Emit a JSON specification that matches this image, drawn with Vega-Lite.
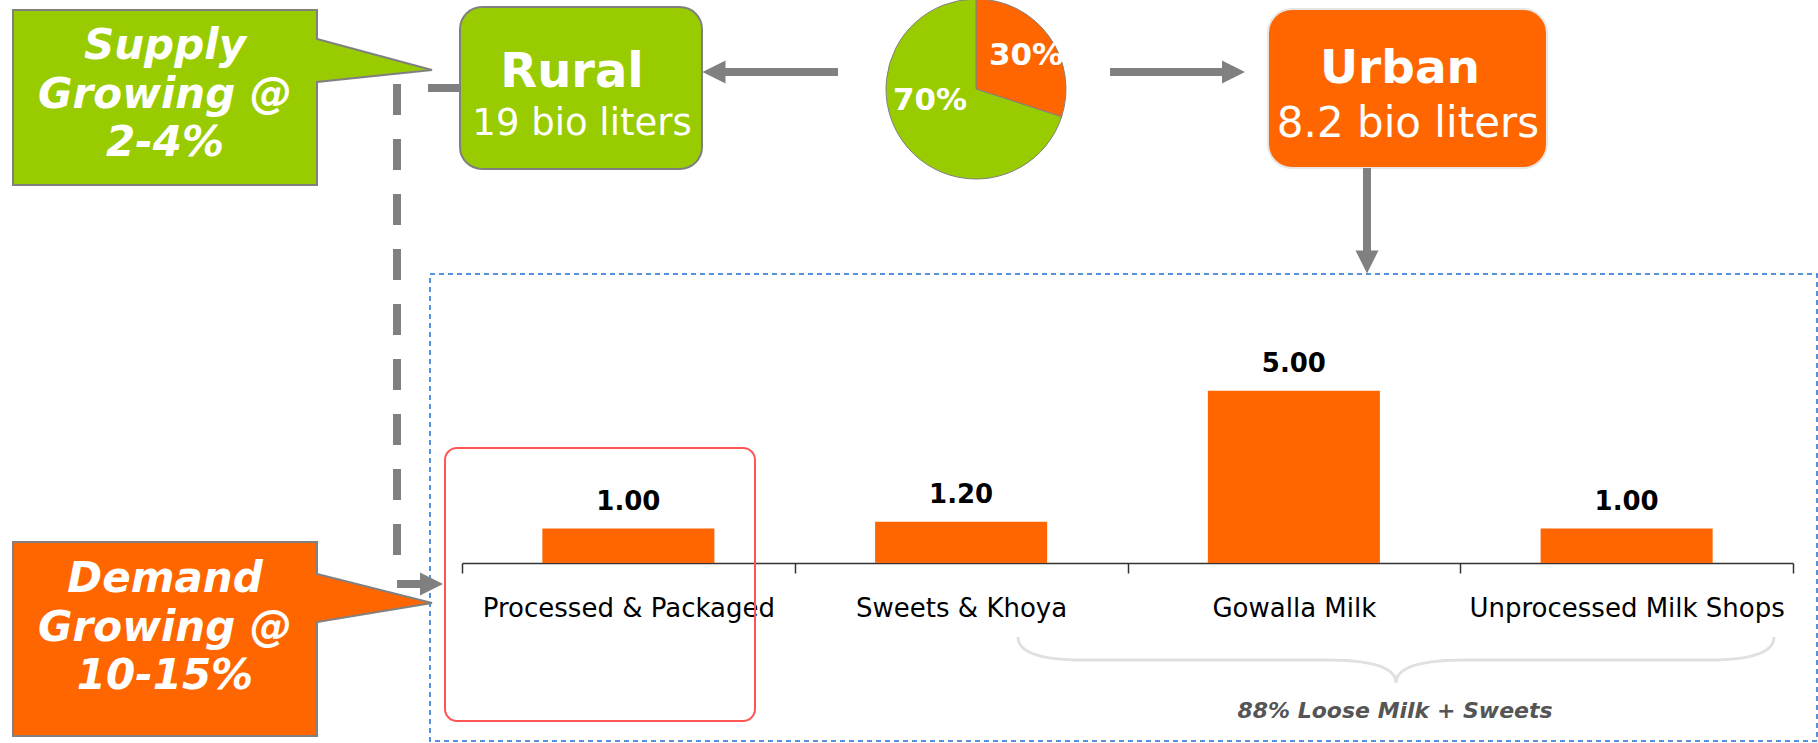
{
  "$schema": "https://vega.github.io/schema/vega-lite/v6.json",
  "width": 1818,
  "height": 743,
  "autosize": {"type": "none"},
  "padding": 0,
  "background": "white",
  "config": {"view": {"stroke": null}, "font": "DejaVu Sans", "axisQuantitative": {"disable": true}},
  "datasets": {
    "milk": [
      {"segment": "Processed & Packaged", "volume": 1.0},
      {"segment": "Sweets & Khoya", "volume": 1.2},
      {"segment": "Gowalla Milk", "volume": 5.0},
      {"segment": "Unprocessed Milk Shops", "volume": 1.0}
    ],
    "split": [
      {"area": "Urban", "share": 30},
      {"area": "Rural", "share": 70}
    ]
  },
  "resolve": {"scale": {"x": "independent", "y": "independent"}},
  "layer": [
    {
      "data": {"values": [{}]},
      "layer": [
        {
          "mark": {"type": "rect", "filled": false, "stroke": "#1f6fd1", "strokeWidth": 1.5, "strokeDash": [5, 4]},
          "encoding": {
            "x": {"datum": 430, "type": "quantitative", "scale": {"domain": [0, 1818], "range": [0, 1818], "nice": false, "zero": false}, "axis": null},
            "x2": {"datum": 1817},
            "y": {"datum": 274, "type": "quantitative", "scale": {"domain": [0, 743], "range": [0, 743], "nice": false, "zero": false}, "axis": null},
            "y2": {"datum": 741}
          }
        },
        {
          "mark": {"type": "point", "shape": "M-1,-0.4177L0.4511,-0.4177L0.4511,-0.2792L1,-0.1313L0.4511,-0.074L0.4511,0.4177L-1,0.4177Z", "size": 175561, "filled": true, "fill": "#99CC00", "stroke": "#808080", "strokeWidth": 2, "opacity": 1},
          "encoding": {"x": {"datum": 222.5, "type": "quantitative"}, "y": {"datum": 97.5, "type": "quantitative"}}
        },
        {
          "mark": {"type": "point", "shape": "M-1,-0.463L0.4511,-0.463L0.4511,-0.3103L1,-0.1718L0.4511,-0.0811L0.4511,0.463L-1,0.463Z", "size": 175561, "filled": true, "fill": "#FF6600", "stroke": "#808080", "strokeWidth": 2, "opacity": 1},
          "encoding": {"x": {"datum": 222.5, "type": "quantitative"}, "y": {"datum": 639, "type": "quantitative"}}
        },
        {
          "mark": {"type": "rect", "cornerRadius": 22, "fill": "#99CC00", "stroke": "#808080", "strokeWidth": 2},
          "encoding": {"x": {"datum": 460, "type": "quantitative"}, "x2": {"datum": 702}, "y": {"datum": 7, "type": "quantitative"}, "y2": {"datum": 169}}
        },
        {
          "mark": {"type": "rect", "cornerRadius": 24, "fill": "#FF6600", "stroke": "#e6e6e6", "strokeWidth": 2},
          "encoding": {"x": {"datum": 1268, "type": "quantitative"}, "x2": {"datum": 1547}, "y": {"datum": 9, "type": "quantitative"}, "y2": {"datum": 168}}
        },
        {
          "mark": {"type": "rule", "color": "#808080", "strokeWidth": 8},
          "encoding": {"x": {"datum": 724, "type": "quantitative"}, "x2": {"datum": 838}, "y": {"datum": 72, "type": "quantitative"}}
        },
        {
          "mark": {"type": "rule", "color": "#808080", "strokeWidth": 8},
          "encoding": {"x": {"datum": 1110, "type": "quantitative"}, "x2": {"datum": 1223}, "y": {"datum": 72, "type": "quantitative"}}
        },
        {
          "mark": {"type": "rule", "color": "#808080", "strokeWidth": 8},
          "encoding": {"x": {"datum": 1367, "type": "quantitative"}, "y": {"datum": 168, "type": "quantitative"}, "y2": {"datum": 252}}
        },
        {
          "mark": {"type": "rule", "color": "#808080", "strokeWidth": 8},
          "encoding": {"x": {"datum": 428, "type": "quantitative"}, "x2": {"datum": 460}, "y": {"datum": 88, "type": "quantitative"}}
        },
        {
          "mark": {"type": "rule", "color": "#808080", "strokeWidth": 8, "strokeDash": [31, 24]},
          "encoding": {"x": {"datum": 397, "type": "quantitative"}, "y": {"datum": 84, "type": "quantitative"}, "y2": {"datum": 563}}
        },
        {
          "mark": {"type": "rule", "color": "#808080", "strokeWidth": 8},
          "encoding": {"x": {"datum": 397, "type": "quantitative"}, "x2": {"datum": 422}, "y": {"datum": 584, "type": "quantitative"}}
        },
        {
          "mark": {"type": "point", "shape": "M-1,0L1,-1L1,1Z", "size": 529, "filled": true, "fill": "#808080", "strokeWidth": 0, "opacity": 1},
          "encoding": {"x": {"datum": 714, "type": "quantitative"}, "y": {"datum": 72, "type": "quantitative"}}
        },
        {
          "mark": {"type": "point", "shape": "M1,0L-1,-1L-1,1Z", "size": 529, "filled": true, "fill": "#808080", "strokeWidth": 0, "opacity": 1},
          "encoding": {"x": {"datum": 1233.5, "type": "quantitative"}, "y": {"datum": 72, "type": "quantitative"}}
        },
        {
          "mark": {"type": "point", "shape": "M0,1L-1,-1L1,-1Z", "size": 529, "filled": true, "fill": "#808080", "strokeWidth": 0, "opacity": 1},
          "encoding": {"x": {"datum": 1367, "type": "quantitative"}, "y": {"datum": 262, "type": "quantitative"}}
        },
        {
          "mark": {"type": "point", "shape": "M1,0L-1,-1L-1,1Z", "size": 529, "filled": true, "fill": "#808080", "strokeWidth": 0, "opacity": 1},
          "encoding": {"x": {"datum": 431.5, "type": "quantitative"}, "y": {"datum": 584, "type": "quantitative"}}
        },
        {
          "data": {"name": "split"},
          "mark": {"type": "arc", "outerRadius": 90, "stroke": "#808080", "strokeWidth": 1},
          "encoding": {
            "x": {"datum": 976, "type": "quantitative"},
            "y": {"datum": 89, "type": "quantitative"},
            "theta": {"field": "share", "type": "quantitative", "stack": true},
            "order": {"field": "share", "type": "quantitative", "sort": "ascending"},
            "color": {"field": "area", "type": "nominal", "scale": {"domain": ["Urban", "Rural"], "range": ["#FF6600", "#99CC00"]}, "legend": null}
          }
        },
        {
          "mark": {"type": "point", "shape": "M-1,-0.0608Q-1,0,-0.828,0L-0.1852,0Q0,0,0,0.0608Q0,0,0.1852,0L0.828,0Q1,0,1,-0.0608", "size": 571536, "filled": false, "stroke": "#e0e0e0", "strokeWidth": 3, "opacity": 1},
          "encoding": {"x": {"datum": 1396, "type": "quantitative"}, "y": {"datum": 660, "type": "quantitative"}}
        },
        {
          "mark": {"type": "rect", "filled": false, "cornerRadius": 12, "stroke": "#ff5555", "strokeWidth": 2},
          "encoding": {"x": {"datum": 445, "type": "quantitative"}, "x2": {"datum": 755}, "y": {"datum": 448, "type": "quantitative"}, "y2": {"datum": 721}}
        },
        {
          "mark": {"type": "text", "text": ["Supply", "Growing @", "2-4%"], "align": "center", "baseline": "middle", "lineHeight": 48.5, "fontSize": 42, "fontWeight": "bold", "fontStyle": "italic", "fill": "white"},
          "encoding": {"x": {"datum": 165, "type": "quantitative"}, "y": {"datum": 46, "type": "quantitative"}}
        },
        {
          "mark": {"type": "text", "text": ["Demand", "Growing @", "10-15%"], "align": "center", "baseline": "middle", "lineHeight": 48.5, "fontSize": 42, "fontWeight": "bold", "fontStyle": "italic", "fill": "white"},
          "encoding": {"x": {"datum": 165, "type": "quantitative"}, "y": {"datum": 579, "type": "quantitative"}}
        },
        {
          "mark": {"type": "text", "text": "Rural", "align": "center", "baseline": "alphabetic", "fontSize": 48, "fontWeight": "bold", "fill": "white"},
          "encoding": {"x": {"datum": 572, "type": "quantitative"}, "y": {"datum": 87, "type": "quantitative"}}
        },
        {
          "mark": {"type": "text", "text": "19 bio liters", "align": "center", "baseline": "alphabetic", "fontSize": 37, "fill": "white"},
          "encoding": {"x": {"datum": 582, "type": "quantitative"}, "y": {"datum": 135, "type": "quantitative"}}
        },
        {
          "mark": {"type": "text", "text": "Urban", "align": "center", "baseline": "alphabetic", "fontSize": 47, "fontWeight": "bold", "fill": "white"},
          "encoding": {"x": {"datum": 1400, "type": "quantitative"}, "y": {"datum": 83, "type": "quantitative"}}
        },
        {
          "mark": {"type": "text", "text": "8.2 bio liters", "align": "center", "baseline": "alphabetic", "fontSize": 42, "fill": "white"},
          "encoding": {"x": {"datum": 1408, "type": "quantitative"}, "y": {"datum": 137, "type": "quantitative"}}
        },
        {
          "mark": {"type": "text", "text": "30%", "align": "center", "baseline": "alphabetic", "fontSize": 31, "fontWeight": "bold", "fill": "white"},
          "encoding": {"x": {"datum": 1026, "type": "quantitative"}, "y": {"datum": 65, "type": "quantitative"}}
        },
        {
          "mark": {"type": "text", "text": "70%", "align": "center", "baseline": "alphabetic", "fontSize": 31, "fontWeight": "bold", "fill": "white"},
          "encoding": {"x": {"datum": 930, "type": "quantitative"}, "y": {"datum": 110, "type": "quantitative"}}
        },
        {
          "mark": {"type": "text", "text": "88% Loose Milk + Sweets", "align": "center", "baseline": "alphabetic", "fontSize": 22, "fontWeight": "bold", "fontStyle": "italic", "fill": "#555555"},
          "encoding": {"x": {"datum": 1395, "type": "quantitative"}, "y": {"datum": 718, "type": "quantitative"}}
        }
      ]
    },
    {
      "data": {"name": "milk"},
      "encoding": {
        "x": {
          "field": "segment", "type": "nominal", "sort": null,
          "scale": {"range": [462, 1793], "paddingInner": 0, "paddingOuter": 0},
          "axis": {"title": null, "offset": -180, "tickBand": "extent", "domainColor": "#333333", "tickColor": "#333333", "domainWidth": 1.5, "tickWidth": 1.5, "tickSize": 10, "labelFontSize": 26, "labelColor": "#000000", "labelPadding": 22, "labelAngle": 0, "labelLimit": 0, "labelFont": "DejaVu Sans", "grid": false}
        },
        "y": {"field": "volume", "type": "quantitative", "scale": {"domain": [0, 7], "range": [563, 322], "nice": false}, "axis": null}
      },
      "layer": [
        {"mark": {"type": "bar", "color": "#FF6600", "width": {"band": 0.517}}},
        {
          "mark": {"type": "text", "dy": -19, "baseline": "alphabetic", "align": "center", "fontSize": 26, "fontWeight": "bold", "fill": "#000000"},
          "encoding": {"text": {"field": "volume", "type": "quantitative", "format": ".2f"}}
        }
      ]
    }
  ]
}
